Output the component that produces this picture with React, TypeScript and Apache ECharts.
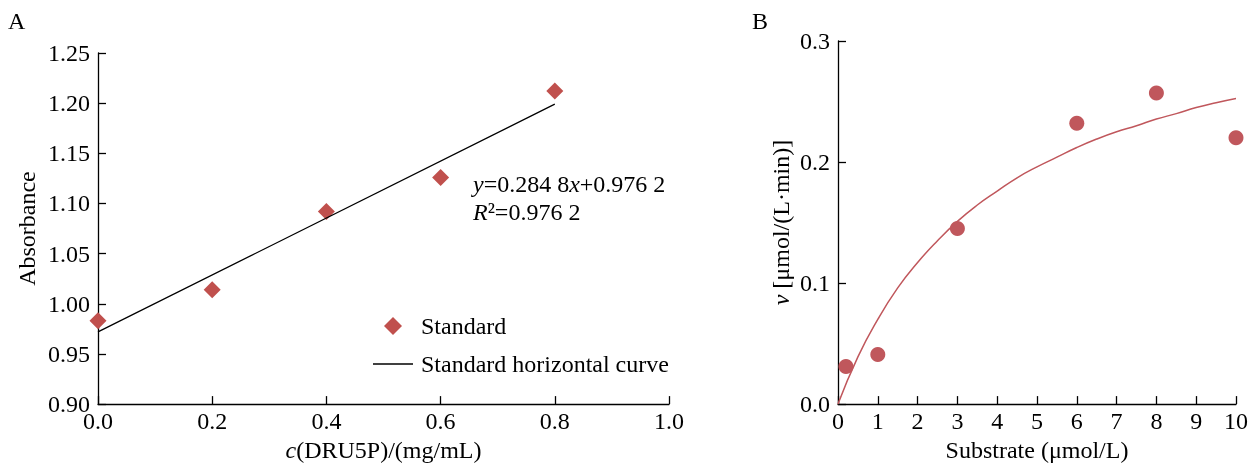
import React, { useEffect, useRef } from "react";
import * as echarts from "echarts";

// Panel A: standard curve
const stdConc = [0, 0.2, 0.4, 0.6, 0.8];
const stdAbs = [0.983, 1.014, 1.092, 1.126, 1.212];
const fitConc = [0, 0.8];
const fitAbs = [0.972, 1.199];

// Panel B: kinetics
const substrate = [0.2, 1, 3, 6, 8, 10];
const rate = [0.031, 0.041, 0.145, 0.232, 0.257, 0.22];
const curveS = [0, 0.5, 1, 1.5, 2, 2.5, 3, 3.5, 4, 4.5, 5, 5.5, 6, 6.5, 7, 7.5, 8, 8.5, 9, 9.5, 10];
const curveV = [0, 0.039, 0.07, 0.096, 0.117, 0.135, 0.151, 0.1645, 0.176, 0.187, 0.196, 0.204, 0.212, 0.219, 0.225, 0.23, 0.2355, 0.24, 0.245, 0.249, 0.2525];

const FONT = "'Liberation Serif', 'Times New Roman', serif";
const FS = 24;
const RED = "#c0504d";
const RED2 = "#c0575c";

export default function App() {
  const ref = useRef<HTMLDivElement>(null);
  useEffect(() => {
    if (!ref.current) return;
    const chart = echarts.init(ref.current, null, { renderer: "svg" });
    const axisLine = { show: true, lineStyle: { color: "#000", width: 1.3 } };
    const axisTick = { show: true, inside: true, length: 8, lineStyle: { color: "#000", width: 1.3 } };
    const label = (digits: number, margin: number) => ({
      fontFamily: FONT,
      fontSize: FS,
      color: "#000",
      margin,
      formatter: (v: number) => v.toFixed(digits),
    });
    const nameStyle = {
      fontFamily: FONT,
      fontSize: FS,
      color: "#000",
      rich: { i: { fontFamily: FONT, fontSize: FS, fontStyle: "italic", color: "#000" } },
    };
    chart.setOption({
      animation: false,
      textStyle: { fontFamily: FONT },
      grid: [
        { left: 98, top: 53, width: 571, height: 354 },
        { left: 838, top: 41, width: 398, height: 366 },
      ],
      xAxis: [
        {
          type: "value", gridIndex: 0, min: 0, max: 1, interval: 0.2,
          axisLine, axisTick, splitLine: { show: false },
          axisLabel: label(1, 5),
          name: "{i|c}(DRU5P)/(mg/mL)", nameLocation: "middle", nameGap: 27,
          nameTextStyle: nameStyle,
        },
        {
          type: "value", gridIndex: 1, min: 0, max: 10, interval: 1,
          axisLine, axisTick, splitLine: { show: false },
          axisLabel: label(0, 5),
          name: "Substrate (μmol/L)", nameLocation: "middle", nameGap: 27,
          nameTextStyle: nameStyle,
        },
      ],
      yAxis: [
        {
          type: "value", gridIndex: 0, min: 0.9, max: 1.25, interval: 0.05,
          axisLine, axisTick, splitLine: { show: false },
          axisLabel: label(2, 8),
          name: "Absorbance", nameLocation: "middle", nameGap: 59,
          nameTextStyle: nameStyle,
        },
        {
          type: "value", gridIndex: 1, min: 0, max: 0.3, interval: 0.1,
          axisLine, axisTick, splitLine: { show: false },
          axisLabel: label(1, 8),
          name: "{i|v} [μmol/(L·min)]", nameLocation: "middle", nameGap: 45,
          nameTextStyle: nameStyle,
        },
      ],
      legend: {
        orient: "vertical",
        left: 373,
        top: 314,
        padding: 0,
        itemWidth: 40,
        itemHeight: 18,
        itemGap: 14,
        symbolKeepAspect: true,
        textStyle: { fontFamily: FONT, fontSize: FS, color: "#000", padding: [0, 0, 0, 3] },
        data: [
          { name: "Standard", icon: "path://M8,0L16,8L8,16L0,8Z", itemStyle: { color: RED } },
          { name: "Standard horizontal curve", icon: "path://M0,0H40V1.3H0Z", itemStyle: { color: "#000" } },
        ],
      },
      series: [
        {
          name: "Standard",
          type: "scatter",
          xAxisIndex: 0, yAxisIndex: 0,
          symbol: "diamond",
          symbolSize: 17,
          itemStyle: { color: RED, opacity: 1 },
          data: stdConc.map((x, i) => [x, stdAbs[i]]),
        },
        {
          name: "Standard horizontal curve",
          type: "line",
          xAxisIndex: 0, yAxisIndex: 0,
          symbol: "none",
          lineStyle: { color: "#000", width: 1.3 },
          itemStyle: { color: "#000" },
          data: fitConc.map((x, i) => [x, fitAbs[i]]),
        },
        {
          name: "Rate",
          type: "scatter",
          xAxisIndex: 1, yAxisIndex: 1,
          symbol: "circle",
          symbolSize: 15,
          itemStyle: { color: RED2, opacity: 1 },
          data: substrate.map((x, i) => [x, rate[i]]),
        },
        {
          name: "Fit",
          type: "line",
          xAxisIndex: 1, yAxisIndex: 1,
          symbol: "none",
          smooth: true,
          lineStyle: { color: RED2, width: 1.5 },
          data: curveS.map((x, i) => [x, curveV[i]]),
        },
      ],
      graphic: [
        { type: "text", left: 8, top: 9, style: { text: "A", font: `${FS}px ${FONT}`, fill: "#000" } },
        { type: "text", left: 752, top: 9, style: { text: "B", font: `${FS}px ${FONT}`, fill: "#000" } },
        {
          type: "text", left: 473, top: 172,
          style: {
            text: "{i|y}=0.284 8{i|x}+0.976 2",
            font: `${FS}px ${FONT}`, fill: "#000",
            rich: { i: { fontStyle: "italic", fontFamily: FONT, fontSize: FS, fill: "#000" } },
          },
        },
        {
          type: "text", left: 473, top: 200,
          style: {
            text: "{i|R}²=0.976 2",
            font: `${FS}px ${FONT}`, fill: "#000",
            rich: { i: { fontStyle: "italic", fontFamily: FONT, fontSize: FS, fill: "#000" } },
          },
        },
      ],
    });
    return () => chart.dispose();
  }, []);
  return <div ref={ref} style={{ position: "fixed", left: 0, top: 0, width: 1257, height: 467 }} />;
}
